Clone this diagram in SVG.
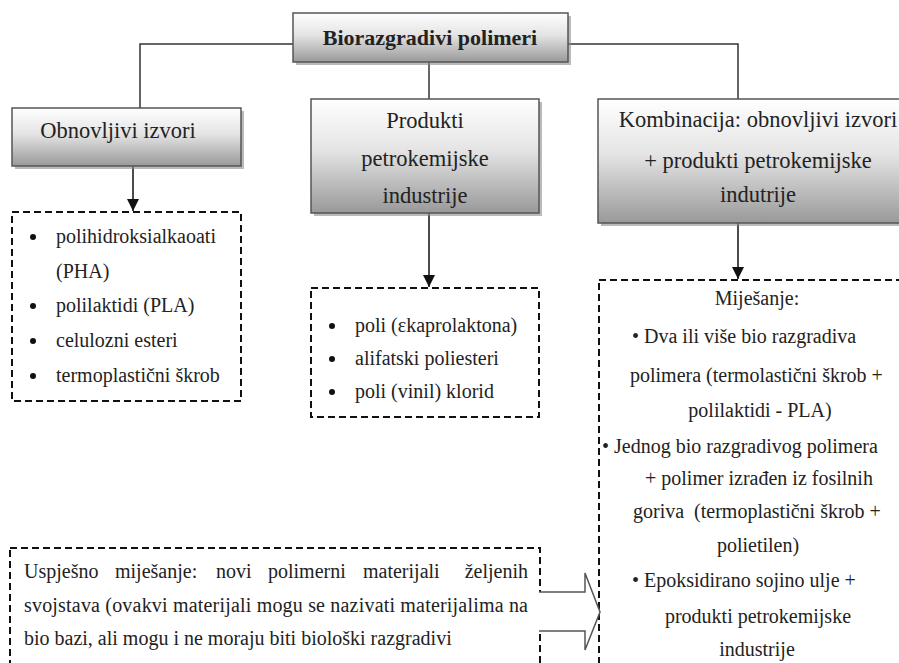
<svg xmlns="http://www.w3.org/2000/svg" width="899" height="663" viewBox="0 0 899 663">
<defs>
<linearGradient id="g" x1="0" y1="0" x2="0" y2="1">
<stop offset="0" stop-color="#ffffff"/>
<stop offset="0.45" stop-color="#e4e4e4"/>
<stop offset="1" stop-color="#999999"/>
</linearGradient>
<marker id="ah" markerWidth="12" markerHeight="12" refX="10" refY="5" orient="auto" markerUnits="userSpaceOnUse" viewBox="0 0 10 10">
<path d="M0,0 L10,5 L0,10 z" fill="#111"/>
</marker>
<style>
.box{fill:url(#g);stroke:#555;stroke-width:1.5}
.sh{fill:#8c8c8c;opacity:0.6}
.dash{fill:#fff;stroke:#111;stroke-width:2;stroke-dasharray:7 4}
.t{font-size:22.5px;fill:#222}
.s{font-size:20px;fill:#222}
.ln{fill:none;stroke:#333;stroke-width:1.5}
.ar{fill:none;stroke:#111;stroke-width:1.5}
</style>
</defs>
<rect width="899" height="663" fill="#fff"/>
<g id="connectors">
<path class="ln" d="M140,108 V44 H738 V99"/>
<path class="ln" d="M429,62 V99"/>
<path class="ar" d="M133,166 V211" marker-end="url(#ah)"/>
<path class="ar" d="M429,213 V287" marker-end="url(#ah)"/>
<path class="ar" d="M738,223 V279" marker-end="url(#ah)"/>
</g>
<g font-family="'Liberation Serif', 'Times New Roman', 'DejaVu Serif', serif">
<g id="root">
<rect class="sh" x="296" y="16" width="275" height="49"/>
<rect class="box" x="293" y="13" width="275" height="49"/>
<text x="430" y="45" text-anchor="middle" font-weight="bold" font-size="22px" fill="#222">Biorazgradivi polimeri</text>
</g>
<g id="obnovljivi">
<rect class="sh" x="15" y="111" width="229" height="58"/>
<rect class="box" x="12" y="108" width="229" height="58"/>
<text class="t" x="118" y="138" text-anchor="middle">Obnovljivi izvori</text>
</g>
<g id="produkti">
<rect class="sh" x="314" y="102" width="228" height="114"/>
<rect class="box" x="311" y="99" width="228" height="114"/>
<text class="t" x="425" y="128" text-anchor="middle">Produkti</text>
<text class="t" x="425" y="166" text-anchor="middle">petrokemijske</text>
<text class="t" x="425" y="203" text-anchor="middle">industrije</text>
</g>
<g id="kombinacija">
<rect class="sh" x="601" y="102" width="310" height="124"/>
<rect class="box" x="598" y="99" width="310" height="124"/>
<text class="t" x="758" y="127" text-anchor="middle">Kombinacija: obnovljivi izvori</text>
<text class="t" x="758" y="168" text-anchor="middle">+ produkti petrokemijske</text>
<text class="t" x="758" y="202" text-anchor="middle">indutrije</text>
</g>
<g id="lista-obnovljivi">
<rect class="dash" x="12" y="212" width="229" height="189"/>
<circle cx="33" cy="237" r="3" fill="#111"/>
<text class="s" x="56" y="243">polihidroksialkaoati</text>
<text class="s" x="56" y="278">(PHA)</text>
<circle cx="33" cy="306" r="3" fill="#111"/>
<text class="s" x="56" y="312">polilaktidi (PLA)</text>
<circle cx="33" cy="341" r="3" fill="#111"/>
<text class="s" x="56" y="347">celulozni esteri</text>
<circle cx="33" cy="376" r="3" fill="#111"/>
<text class="s" x="56" y="382">termoplastični škrob</text>
</g>
<g id="lista-produkti">
<rect class="dash" x="311" y="288" width="228" height="129"/>
<circle cx="332" cy="326" r="3" fill="#111"/>
<text class="s" x="355" y="332">poli (εkaprolaktona)</text>
<circle cx="332" cy="359" r="3" fill="#111"/>
<text class="s" x="355" y="365">alifatski poliesteri</text>
<circle cx="332" cy="392" r="3" fill="#111"/>
<text class="s" x="355" y="398">poli (vinil) klorid</text>
</g>
<g id="mijesanje">
<rect class="dash" x="599" y="280" width="320" height="400"/>
<text class="s" x="757" y="305" text-anchor="middle">Miješanje:</text>
<text class="s" x="632" y="343">• Dva ili više bio razgradiva</text>
<text class="s" x="630" y="382">polimera (termolastični škrob +</text>
<text class="s" x="760" y="417" text-anchor="middle">polilaktidi - PLA)</text>
<text class="s" x="602" y="453">• Jednog bio razgradivog polimera</text>
<text class="s" x="645" y="485">+ polimer izrađen iz fosilnih</text>
<text class="s" x="633" y="518" xml:space="preserve">goriva  (termoplastični škrob +</text>
<text class="s" x="758" y="552" text-anchor="middle">polietilen)</text>
<text class="s" x="632" y="587">• Epoksidirano sojino ulje +</text>
<text class="s" x="758" y="623" text-anchor="middle">produkti petrokemijske</text>
<text class="s" x="757" y="656" text-anchor="middle">industrije</text>
</g>
<g id="uspjesno">
<rect class="dash" x="10" y="548" width="530" height="140"/>
<text class="s" y="578"><tspan x="24">Uspješno</tspan><tspan x="115">miješanje:</tspan><tspan x="216">novi</tspan><tspan x="268">polimerni</tspan><tspan x="363">materijali</tspan></text>
<text class="s" x="528" y="578" text-anchor="end">željenih</text>
<text class="s" x="24" y="612" textLength="504" lengthAdjust="spacing">svojstava (ovakvi materijali mogu se nazivati materijalima na</text>
<text class="s" x="24" y="645">bio bazi, ali mogu i ne moraju biti biološki razgradivi</text>
</g>
</g>
<g id="strelica">
<path d="M539,592 H585 V573 L600,612 L585,650 V631 H539" fill="#fff" stroke="#555" stroke-width="1.5"/>
</g>
</svg>
